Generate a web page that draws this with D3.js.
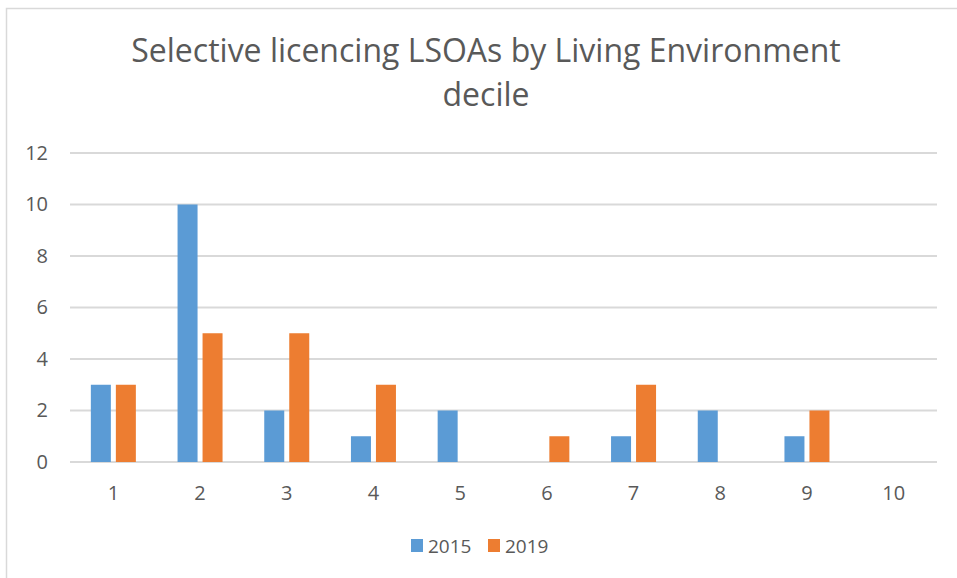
<!DOCTYPE html>
<html>
<head>
<meta charset="utf-8">
<script src="https://cdn.jsdelivr.net/npm/d3@7"></script>
<style>
  body { margin: 0; background: #fff; }
  text { font-family: "Open Sans", sans-serif; fill: #595959; }
</style>
</head>
<body>
<div id="chart"></div>
<script>
// data
const deciles = ["1", "2", "3", "4", "5", "6", "7", "8", "9", "10"];
const seriesNames = ["2015", "2019"];
const values2015 = [3, 10, 2, 1, 2, 0, 1, 2, 1, 0];
const values2019 = [3, 5, 5, 3, 0, 1, 3, 0, 2, 0];
const yTicks = [0, 2, 4, 6, 8, 10, 12];
const colors = ["#5B9BD5", "#ED7D31"];

const width = 957, height = 578;
const margin = {top: 153, right: 20, bottom: 116, left: 70};

const svg = d3.select("#chart").append("svg")
    .attr("width", width)
    .attr("height", height);

// chart area border (only top and left visible in the crop)
svg.append("rect")
    .attr("x", 6.5).attr("y", 8.5)
    .attr("width", 1200).attr("height", 1200)
    .attr("fill", "none")
    .attr("stroke", "#D9D9D9")
    .attr("stroke-width", 1.5);

// title
let title = svg.append("text")
    .attr("text-anchor", "middle")
    .style("font-size", "32px");
title.append("tspan").attr("x", 486).attr("y", 62).text("Selective licencing LSOAs by Living Environment");
title.append("tspan").attr("x", 486).attr("y", 106).text("decile");

let x0 = d3.scaleBand()
    .domain(deciles)
    .range([margin.left, width - margin.right]);

let x1 = d3.scaleBand()
    .domain(seriesNames)
    .range([0, 45])
    .paddingInner(0.2);

let y = d3.scaleLinear()
    .domain([0, 12])
    .range([height - margin.bottom, margin.top]);

// gridlines
svg.append("g")
    .selectAll("line")
    .data(yTicks)
    .enter()
    .append("line")
    .attr("x1", margin.left)
    .attr("x2", width - margin.right)
    .attr("y1", d => y(d))
    .attr("y2", d => y(d))
    .attr("stroke", "#D9D9D9")
    .attr("stroke-width", 2);

// y axis labels
let yAxis = svg.append("g")
    .attr("transform", "translate(" + (margin.left - 22) + ",0)")
    .call(d3.axisLeft(y).tickValues(yTicks).tickSize(0).tickPadding(0));
yAxis.select(".domain").remove();
yAxis.selectAll("text").style("font-size", "20px").attr("fill", "#595959");

// x axis labels
let xAxis = svg.append("g")
    .attr("transform", "translate(0," + (height - margin.bottom + 20) + ")")
    .call(d3.axisBottom(x0).tickSize(0).tickPadding(4));
xAxis.select(".domain").remove();
xAxis.selectAll("text").style("font-size", "20px").attr("fill", "#595959");

// bars
let rows = deciles.map((d, i) => ({decile: d, vals: [values2015[i], values2019[i]]}));
let offset = (x0.bandwidth() - 45) / 2;

svg.append("g")
    .selectAll("g")
    .data(rows)
    .enter()
    .append("g")
    .attr("transform", d => "translate(" + (x0(d.decile) + offset) + ",0)")
    .selectAll("rect")
    .data(d => d.vals.map((v, j) => ({name: seriesNames[j], value: v, idx: j})))
    .enter()
    .append("rect")
    .attr("x", d => x1(d.name))
    .attr("y", d => y(d.value))
    .attr("width", x1.bandwidth())
    .attr("height", d => y(0) - y(d.value))
    .attr("fill", d => colors[d.idx]);

// legend
const legendX = [411, 488];
let legend = svg.append("g")
    .selectAll("g")
    .data(seriesNames)
    .enter()
    .append("g")
    .attr("transform", (d, i) => "translate(" + legendX[i] + ",539)");
legend.append("rect")
    .attr("width", 12).attr("height", 13)
    .attr("fill", (d, i) => colors[i]);
legend.append("text")
    .attr("x", 17).attr("y", 14)
    .style("font-size", "19px")
    .text(d => d);
</script>
</body>
</html>
